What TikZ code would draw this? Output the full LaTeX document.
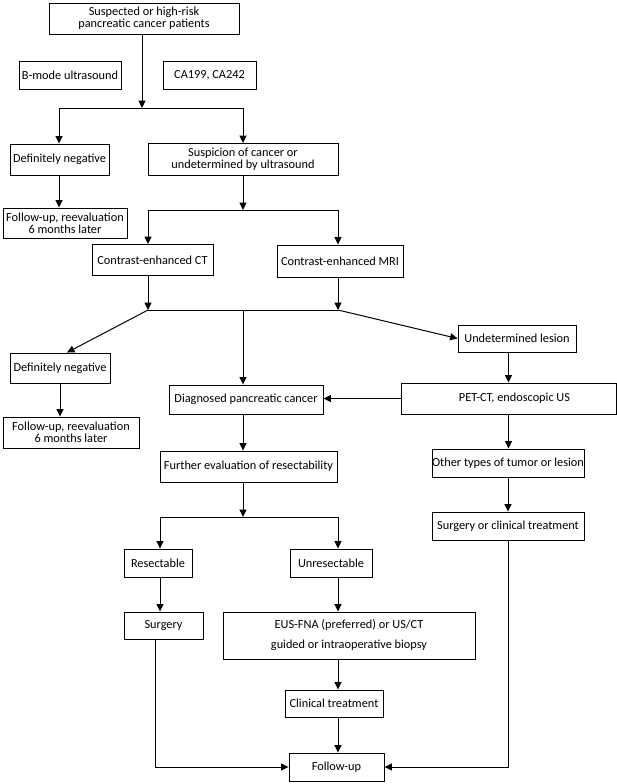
\documentclass[tikz,border=0pt]{standalone}
\usepackage{fontspec}
\setmainfont{Carlito}
\usetikzlibrary{arrows.meta}
\begin{document}
\begin{tikzpicture}[x=1pt,y=-1pt,
  box/.style={draw, line width=0.9pt, inner sep=0pt, align=center, font=\fontsize{12.3}{12}\selectfont},
  arr/.style={-{Triangle[length=7.5pt,width=7pt]}, line width=1pt},
  ln/.style={line width=1pt}]
\useasboundingbox (0,0) rectangle (617,784);
% nodes
\node[box, minimum width=190pt, minimum height=31pt] (top) at (144,18.5) {Suspected or high-risk\\pancreatic cancer patients};
\node[box, minimum width=102pt, minimum height=28pt] (bmode) at (70,75) {B-mode ultrasound};
\node[box, minimum width=93pt, minimum height=28pt] (ca) at (209.5,75) {CA199, CA242};
\node[box, minimum width=99pt, minimum height=31pt] (defn1) at (59.5,159.5) {Definitely negative};
\node[box, minimum width=190pt, minimum height=32pt] (susp) at (243,159.5) {Suspicion of cancer or\\undetermined by ultrasound};
\node[box, minimum width=124pt, minimum height=30pt] (fu1) at (65,223) {Follow-up, reevaluation\\6 months later};
\node[box, minimum width=121pt, minimum height=31pt] (ct) at (152.5,260) {Contrast-enhanced CT};
\node[box, minimum width=126pt, minimum height=32pt] (mri) at (340,261) {Contrast-enhanced MRI};
\node[box, minimum width=118pt, minimum height=27pt] (undet) at (517,338.5) {Undetermined lesion};
\node[box, minimum width=100pt, minimum height=30pt] (defn2) at (60,368) {Definitely negative};
\node[box, minimum width=136pt, minimum height=31pt] (fu2) at (71,432.5) {Follow-up, reevaluation\\6 months later};
\node[box, minimum width=154pt, minimum height=29pt] (diag) at (246,399.5) {Diagnosed pancreatic cancer};
\node[box, minimum width=215pt, minimum height=31pt] (pet) at (508.5,398.5) {\hspace*{12pt}PET-CT, endoscopic US};
\node[box, minimum width=177pt, minimum height=31pt] (further) at (248.5,466.5) {Further evaluation of resectability};
\node[box, minimum width=152pt, minimum height=28pt] (other) at (508,463) {Other types of tumor or lesion};
\node[box, minimum width=152pt, minimum height=28pt] (surgclin) at (508,526) {Surgery or clinical treatment};
\node[box, minimum width=68pt, minimum height=28pt] (res) at (158,563) {Resectable};
\node[box, minimum width=82pt, minimum height=28pt] (unres) at (331,563) {Unresectable};
\node[box, minimum width=79pt, minimum height=27pt] (surg) at (163.5,625.5) {Surgery};
\node[box, minimum width=252pt, minimum height=47pt, font=\fontsize{12.3}{20}\selectfont] (eus) at (349,635.5) {EUS-FNA (preferred) or US/CT\\guided or intraoperative biopsy};
\node[box, minimum width=98pt, minimum height=27pt] (clin) at (334,703.5) {Clinical treatment};
\node[box, minimum width=95pt, minimum height=28pt] (fu) at (336.5,767) {Follow-up};
% junction coordinates
\coordinate (j1) at (142,108);
\coordinate (j1l) at (59,108);
\coordinate (j1r) at (243,108);
\coordinate (j2) at (243,210);
\coordinate (j2l) at (148,210);
\coordinate (j2r) at (338,210);
\coordinate (j3l) at (148,310);
\coordinate (j3m) at (243,310);
\coordinate (j3r) at (338,310);
\coordinate (j4) at (243,517);
\coordinate (j4l) at (160,517);
\coordinate (j4r) at (338,517);
\coordinate (s1) at (155,0);
% connectors
\draw[arr] (top.south -| j1) -- (j1);
\draw[ln] (j1l) -- (j1r);
\draw[arr] (j1l) -- (defn1.north -| j1l);
\draw[arr] (j1r) -- (susp.north -| j1r);
\draw[arr] (defn1.south -| j1l) -- (fu1.north -| j1l);
\draw[arr] (susp.south -| j2) -- (j2);
\draw[ln] (j2l) -- (j2r);
\draw[arr] (j2l) -- (ct.north -| j2l);
\draw[arr] (j2r) -- (mri.north -| j2r);
\draw[arr] (ct.south -| j3l) -- (j3l);
\draw[arr] (mri.south -| j3r) -- (j3r);
\draw[ln] (j3l) -- (j3r);
\draw[arr] (j3l) -- ([xshift=7pt]defn2.north);
\draw[arr] (j3r) -- (undet.west);
\draw[arr] (j3m) -- (diag.north -| j3m);
\draw[arr] (defn2.south) -- (fu2.north -| defn2.south);
\draw[arr] (pet.north |- undet.south) -- (pet.north);
\draw[arr] (pet.west) -- (diag.east |- pet.west);
\draw[arr] (diag.south -| j3m) -- (further.north -| j3m);
\draw[arr] (pet.south) -- (pet.south |- other.north);
\draw[arr] (other.south) -- (surgclin.north);
\draw[arr] (further.south -| j4) -- (j4);
\draw[ln] (j4l) -- (j4r);
\draw[arr] (j4l) -- (res.north -| j4l);
\draw[arr] (j4r) -- (unres.north -| j4r);
\draw[arr] (res.south -| j4l) -- (surg.north -| j4l);
\draw[arr] (unres.south -| j4r) -- (eus.north -| j4r);
\draw[arr] (eus.south -| j4r) -- (clin.north -| j4r);
\draw[arr] (clin.south -| j4r) -- (fu.north -| j4r);
\draw[arr] (surg.south -| s1) |- (fu.west);
\draw[arr] (surgclin.south) |- (fu.east);
\end{tikzpicture}
\end{document}
